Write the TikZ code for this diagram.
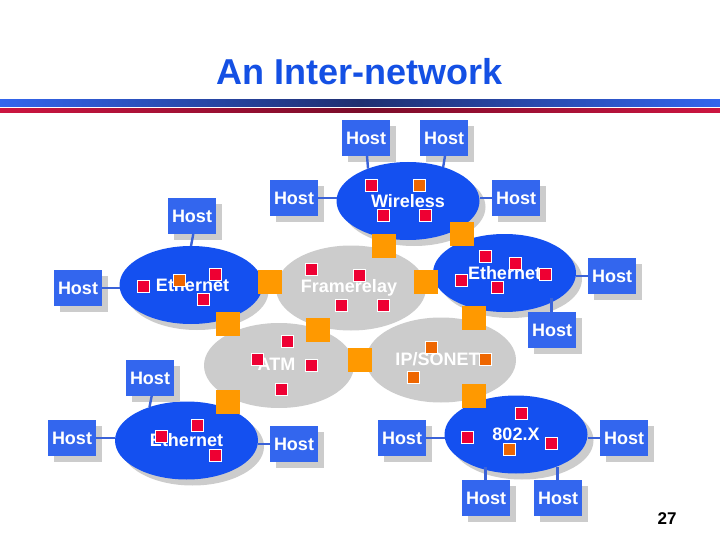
\documentclass[tikz,border=0pt]{standalone}
\usepackage{fontspec}
\setmainfont{Liberation Sans}
\usetikzlibrary{shapes.geometric,shadows}
\definecolor{hostblue}{HTML}{3366EE}
\definecolor{netblue}{HTML}{1450F0}
\definecolor{shgrey}{HTML}{CCCCCC}
\definecolor{routerorange}{HTML}{FF9900}
\definecolor{portred}{HTML}{EE0033}
\definecolor{portorange}{HTML}{EE6600}
\definecolor{linkblue}{HTML}{3A62D8}
\definecolor{titleblue}{HTML}{1450E4}
\definecolor{barnavy}{HTML}{1F2F70}
\definecolor{barred}{HTML}{CC1540}
\definecolor{bardark}{HTML}{7A0C2A}
\newcommand{\shifted}[3]{\raisebox{#2}{\kern#1 #3}}
\tikzset{
  hostbox/.style={rectangle,fill=hostblue,minimum width=48pt,minimum height=36pt,inner sep=0pt,outer sep=0pt,
    text=white,font=\fontsize{18}{20}\selectfont\bfseries,
    general shadow={fill=shgrey,shadow xshift=6pt,shadow yshift=-6pt}},
  bluenet/.style={ellipse,fill=netblue,inner sep=0pt,outer sep=0pt,text=white,
    minimum width=143pt,minimum height=78pt,font=\fontsize{18}{20}\selectfont\bfseries,
    general shadow={fill=shgrey,shadow xshift=6pt,shadow yshift=-6pt}},
  greynet/.style={ellipse,fill=shgrey,inner sep=0pt,outer sep=0pt,text=white,
    minimum width=150pt,minimum height=85pt,font=\fontsize{18}{20}\selectfont\bfseries},
  router/.style={rectangle,fill=routerorange,minimum size=24pt,inner sep=0pt,outer sep=0pt},
  redport/.style={rectangle,fill=portred,draw=white,line width=0.8pt,minimum size=12pt,inner sep=0pt,outer sep=0pt},
  orangeport/.style={redport,fill=portorange},
  link/.style={draw=linkblue,line width=2.4pt}
}
\begin{document}
\begin{tikzpicture}[x=1pt,y=-1pt]
\useasboundingbox (0,0) rectangle (720,540);
\fill[white] (0,0) rectangle (720,540);
% title and bars
\node[text=titleblue,font=\fontsize{36}{40}\selectfont\bfseries,inner sep=0pt] (title) at (359.5,72) {An Inter-network};
\shade[left color=hostblue,right color=hostblue,middle color=barnavy] (0,100) rectangle (720,107);
\shade[left color=barred,right color=barred,middle color=bardark] (0,109) rectangle (720,113);
% networks
\node[greynet] (frame) at (351,288) {\shifted{-4pt}{2pt}{Framerelay}};
\node[greynet] (atm) at (279,365.5) {\shifted{-5pt}{2.5pt}{ATM}};
\node[greynet] (sonet) at (441,360) {\shifted{-7pt}{2pt}{IP/SONET}};
\node[bluenet] (eth1) at (191,285) {\shifted{3pt}{0pt}{Ethernet}};
\node[bluenet] (wire) at (408,201) {Wireless};
\node[bluenet] (eth2) at (504.5,273) {Ethernet};
\node[bluenet] (eth3) at (186.5,440.5) {Ethernet};
\node[bluenet] (dot) at (516,434.5) {802.X};
% ports
\node[redport] (p1) at (143.3,286.7) {};
\node[orangeport] (p2) at (179.3,280.7) {};
\node[redport] (p3) at (215.3,274.7) {};
\node[redport] (p4) at (203.3,299) {};
\node[redport] (p5) at (311.3,269) {};
\node[redport] (p6) at (359.3,275) {};
\node[redport] (p7) at (341.3,305) {};
\node[redport] (p8) at (383.3,305) {};
\node[redport] (p9) at (371.3,185) {};
\node[orangeport] (p10) at (419.3,185) {};
\node[redport] (p11) at (383.3,215) {};
\node[redport] (p12) at (425.3,215) {};
\node[redport] (p13) at (485.3,256.7) {};
\node[redport] (p14) at (515.3,263) {};
\node[redport] (p15) at (461.3,280.7) {};
\node[redport] (p16) at (545.3,274.7) {};
\node[redport] (p17) at (497.3,287) {};
\node[redport] (p18) at (287.3,341) {};
\node[redport] (p19) at (257.3,359) {};
\node[redport] (p20) at (311.3,365) {};
\node[redport] (p21) at (281.3,389) {};
\node[orangeport] (p22) at (431.3,347) {};
\node[orangeport] (p23) at (485.3,359) {};
\node[orangeport] (p24) at (413.3,377) {};
\node[redport] (p25) at (197.3,425) {};
\node[redport] (p26) at (161.3,436.7) {};
\node[redport] (p27) at (215.3,455) {};
\node[redport] (p28) at (521.3,413) {};
\node[redport] (p29) at (467.3,437) {};
\node[redport] (p30) at (551.3,443) {};
\node[orangeport] (p31) at (509.3,449) {};
% routers
\node[router] (r1) at (270,282) {};
\node[router] (r2) at (228,324) {};
\node[router] (r3) at (384,246) {};
\node[router] (r4) at (462,234) {};
\node[router] (r5) at (426,282) {};
\node[router] (r6) at (474,318) {};
\node[router] (r7) at (318,330) {};
\node[router] (r8) at (360,360) {};
\node[router] (r9) at (228,402) {};
\node[router] (r10) at (474,396) {};
% hosts
\node[hostbox] (h1) at (192,216) {Host};
\node[hostbox] (h2) at (78,288) {Host};
\node[hostbox] (h3) at (294,198) {Host};
\node[hostbox] (h4) at (366,138) {Host};
\node[hostbox] (h5) at (444,138) {Host};
\node[hostbox] (h6) at (516,198) {Host};
\node[hostbox] (h7) at (612,276) {Host};
\node[hostbox] (h8) at (552,330) {Host};
\node[hostbox] (h9) at (150,378) {Host};
\node[hostbox] (h10) at (72,438) {Host};
\node[hostbox] (h11) at (294,444) {Host};
\node[hostbox] (h12) at (402,438) {Host};
\node[hostbox] (h13) at (624,438) {Host};
\node[hostbox] (h14) at (486,498) {Host};
\node[hostbox] (h15) at (558,498) {Host};
% connectors
\draw[link] ([xshift=1.3pt]h1.south) -- (eth1.90);
\draw[link] (h2.east) -- (h2.east -| eth1.west);
\draw[link] (h3.east) -- (h3.east -| wire.west);
\draw[link] ([xshift=1pt]h4.south) -- (wire.141.9);
\draw[link] ([xshift=1pt]h5.south) -- (wire.44.4);
\draw[link] (h6.west) -- (h6.west -| wire.east);
\draw[link] (h7.west) -- (h7.west -| eth2.east);
\draw[link] ([xshift=-0.7pt]h8.north) -- ([xshift=-0.7pt,yshift=14pt]h8.north |- eth2.south);
\draw[link] ([xshift=1.7pt]h9.south) -- (eth3.138.2);
\draw[link] (h10.east) -- (h10.east -| eth3.west);
\draw[link] (h11.west) -- (h11.west -| eth3.east);
\draw[link] (h12.east) -- (h12.east -| dot.west);
\draw[link] (h13.west) -- (h13.west -| dot.east);
\draw[link] ([xshift=-0.7pt]h14.north) -- ([xshift=-0.7pt,yshift=7pt]h14.north |- dot.south);
\draw[link] ([xshift=-0.7pt]h15.north) -- ([xshift=-0.7pt,yshift=7pt]h15.north |- dot.south);
% page number
\node[text=black,font=\fontsize{17}{20}\selectfont\bfseries,inner sep=0pt] (page) at (667,519) {27};
\end{tikzpicture}
\end{document}
